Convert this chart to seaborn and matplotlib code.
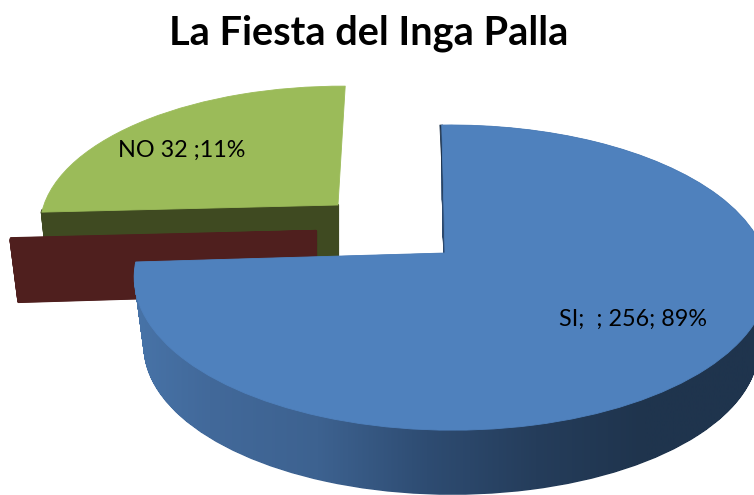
import numpy as np
import matplotlib
matplotlib.use("Agg")
import matplotlib.pyplot as plt
import seaborn as sns
from matplotlib.path import Path
from matplotlib.transforms import Transform

title = "La Fiesta del Inga Palla"
label_si = "SI;  ; 256; 89%"
label_no = "NO 32 ;11%"

# Printed values in the chart
counts = [256, 32]
percents = [89, 11]
# Slice sizes as the picture draws them (degrees); they do not follow the printed shares
sweep_si = 267.2
sweep_no = 94.6
sweep_face = 0.8
sweep_inner_edge = 0.6

color_si = "#4F81BD"
color_no = "#9BBB59"
color_no_face = "#3F4A21"
color_blank_face = "#4F1F1E"
color_edge = "#1F344D"
wall_stops = ["#4A78AE", "#42699A", "#3D6290", "#2E4C72", "#253D5B", "#1F344D", "#1F344D"]

sns.set_theme(style="white")
plt.rcParams["font.family"] = ["Lato", "DejaVu Sans"]


class Projection(Transform):
    input_dims = 2
    output_dims = 2
    is_separable = False
    has_inverse = False

    def __init__(self, ox, oy, rx, ry, k=0.161, m=-0.02):
        super().__init__()
        self.p = (ox, oy, rx, ry, k, m)

    def transform_non_affine(self, values):
        ox, oy, rx, ry, k, m = self.p
        v, u = np.asarray(values, float).T
        w = 1 + k * u + m * v
        return np.column_stack([ox + rx * v / w, oy - ry * u / w])


fig = plt.figure(figsize=(7.54, 4.95), dpi=100)
ax = fig.add_axes([0, 0, 1, 1])


def slice_at(size, start, proj, color, zorder, lw=0.6):
    """One slice (anticlockwise from start) through ax.pie, placed by proj."""
    wedges, _ = ax.pie([size, 360 - size], startangle=start, colors=[color, "none"])
    wedges[1].remove()
    w = wedges[0]
    w.set_transform(proj + ax.transData)
    w.set_edgecolor(color)
    w.set_linewidth(lw)
    w.set_joinstyle("round")
    w.set_zorder(zorder)
    return w


def layers(ox, oy, rx, ry, depth, shrink, n):
    out = []
    for i in np.linspace(1, 0, n):
        s = 1 - shrink * i
        out.append(Projection(ox, oy + depth * i, rx * s, ry * s))
    return out


# Green slice: dark inner face, then top
no_start = 88.4
no_end = no_start + sweep_no
for p in layers(338, 205, 300, 138, 55, 0.02, 160):
    slice_at(sweep_face, no_end - sweep_face, p, color_no_face, 2, lw=1.6)
slice_at(sweep_no, no_start, Projection(338, 205, 300, 138), color_no, 3)

# Barely visible third slice: only its inner face shows
for p in layers(316, 231, 309, 140, 62, 0.026, 180):
    slice_at(sweep_face, 183, p, color_blank_face, 4, lw=1.6)

# Blue slice: side wall with horizontal gradient, then top
si_start = 183.5
top = Projection(445, 253, 313, 148.6)
blue_walls = []
for p in layers(445, 253, 313, 148.6, 70, 0.03, 71):
    w = slice_at(sweep_si, si_start, p, color_si, 1)
    blue_walls.append(p.transform_path(w.get_path()))
    w.remove()

gradient = sns.blend_palette(wall_stops, n_colors=256, as_cmap=True)
image = ax.imshow(np.linspace(0, 1, 256)[None, :], cmap=gradient, aspect="auto",
                  extent=(100, 754, 495, 0), zorder=5)
image.set_clip_path(Path.make_compound_path(*blue_walls), ax.transData)

slice_at(sweep_inner_edge, si_start + sweep_si, Projection(446, 253, 313, 148.6), color_edge, 5.5)
slice_at(sweep_si, si_start, top, color_si, 6)

ax.set_aspect("auto")
ax.set_xlim(0, 754)
ax.set_ylim(495, 0)
ax.set_axis_off()

ax.text(369, 33, title, fontsize=28.6, fontweight="bold", color="black",
        ha="center", va="center", zorder=10)
ax.text(182, 150, label_no, fontsize=16.8, color="black", ha="center", va="center", zorder=10)
ax.text(633, 319, label_si, fontsize=16.8, color="black", ha="center", va="center", zorder=10)

fig.savefig("out.png", dpi=100)
